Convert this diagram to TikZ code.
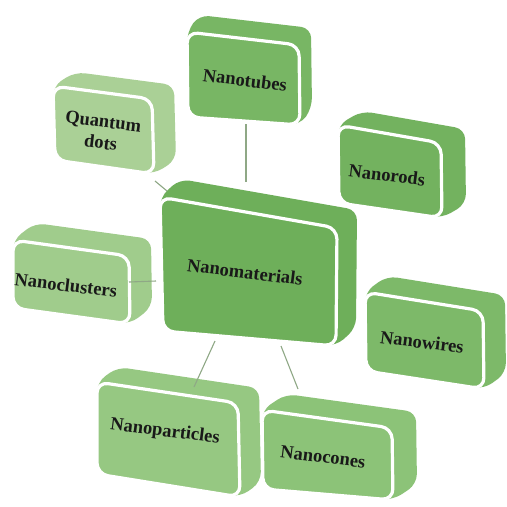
\documentclass[tikz,border=0pt]{standalone}
\usepackage{fontspec}
\setmainfont{Liberation Serif}
\usetikzlibrary{calc}
\definecolor{cmat}{HTML}{6EAF5A}
\definecolor{ctubes}{HTML}{78B664}
\definecolor{cqd}{HTML}{AAD096}
\definecolor{cclus}{HTML}{A0CC8C}
\definecolor{crods}{HTML}{73B25F}
\definecolor{cwires}{HTML}{7DB969}
\definecolor{cpart}{HTML}{96C882}
\definecolor{ccones}{HTML}{8CC378}
\definecolor{linkc}{HTML}{8FA886}
\tikzset{
  lbl/.style={font=\fontsize{18.5}{21.5}\selectfont\bfseries, text=black!90, rotate=-7, align=center, inner sep=0pt},
  backface/.style={rounded corners=10pt},
  frontface/.style={draw=white, line width=3.2pt, rounded corners=11pt},
  link/.style={draw=linkc, line width=1.1pt},
}
% #1 name, #2 TL, #3 TR, #4 BR, #5 BL, #6 depth offset, #7 colour, #8 text centre, #9 text
\newcommand{\nbox}[9]{%
  \fill[#7, backface] #5 -- #2 -- ($#2+#6$) -- ($#3+#6$) -- ($#4+#6$) -- #4 -- cycle;
  \fill[#7, frontface] #2 -- #3 -- #4 -- #5 -- cycle;
  \node[lbl] (#1) at #8 {#9};
}
\begin{document}
\begin{tikzpicture}[x=1pt, y=-1pt]
\useasboundingbox (0,0) rectangle (507,507);
\fill[white] (0,0) rectangle (507,507);

% central box
\nbox{mat}{(160,197)}{(337,228)}{(336,346)}{(163,331)}{(20,-18)}{cmat}{(245,272)}{Nanomaterials}

% satellites
\nbox{tubes}{(187,32)}{(299,45)}{(300,125)}{(188,117)}{(12,-17)}{ctubes}{(245,80)}{Nanotubes}
\nbox{qd}{(53,86)}{(152,99)}{(154,174)}{(55,160)}{(22,-14)}{cqd}{(102,132)}{Quantum\\dots}
\nbox{clus}{(13,240)}{(129,256)}{(130,324)}{(13,308)}{(22,-17)}{cclus}{(66,285)}{Nanoclusters}
\nbox{rods}{(338,125)}{(441,143)}{(442,218)}{(339,203)}{(24,-14)}{crods}{(387,175)}{Nanorods}
\nbox{wires}{(365,292)}{(483,311)}{(484,389)}{(366,371)}{(22,-16)}{cwires}{(422,342)}{Nanowires}
\nbox{cones}{(262,410)}{(392,428)}{(393,500)}{(263,489)}{(24,-16)}{ccones}{(323,457)}{Nanocones}
\nbox{part}{(97,382)}{(238,403)}{(240,497)}{(97,474)}{(21,-15)}{cpart}{(165,432)}{Nanoparticles}

% connector end points
\coordinate (tubes-s) at (246,124);
\coordinate (mat-n) at (246,182);
\coordinate (qd-se) at (155,181);
\coordinate (mat-nw) at (167,191);
\coordinate (clus-e) at (129,282);
\coordinate (mat-w) at (156,281);
\coordinate (mat-sw) at (215,341);
\coordinate (part-n) at (194,387);
\coordinate (mat-se) at (281,346);
\coordinate (cones-n) at (298,389);

\draw[link] (tubes-s) -- (mat-n);
\draw[link] (qd-se) -- (mat-nw);
\draw[link] (clus-e) -- (mat-w);
\draw[link] (mat-sw) -- (part-n);
\draw[link] (mat-se) -- (cones-n);
\end{tikzpicture}
\end{document}
